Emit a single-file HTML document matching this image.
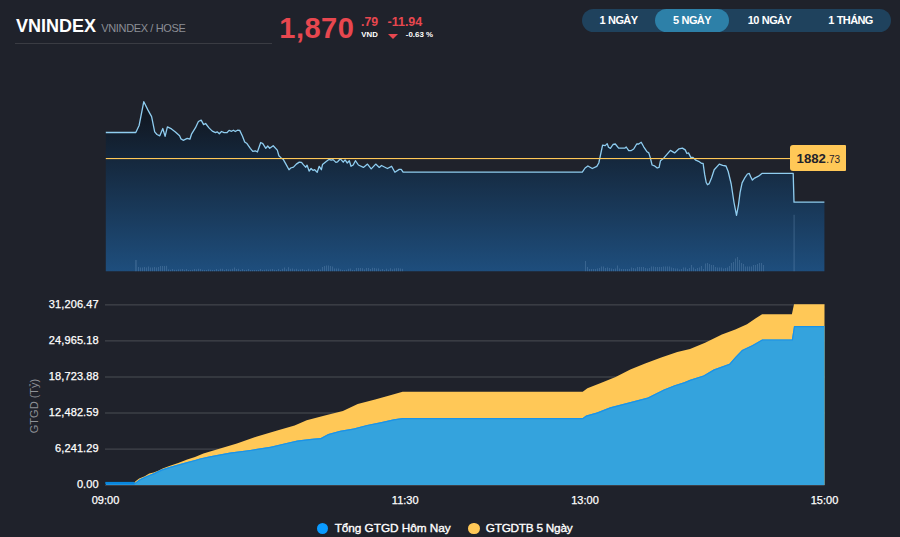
<!DOCTYPE html>
<html><head><meta charset="utf-8"><title>VNINDEX</title>
<style>
html,body{margin:0;padding:0;}
body{width:900px;height:537px;background:#1f222b;position:relative;overflow:hidden;font-family:"Liberation Sans",sans-serif;color:#fff;}
.abs{position:absolute;white-space:nowrap;line-height:1;}
#sym{left:16px;top:16.5px;font-size:18px;font-weight:bold;letter-spacing:0px;}
#sub{left:101.3px;top:22.8px;font-size:11px;letter-spacing:-0.36px;color:#8b8e95;}
#hr{left:15px;top:43px;width:257px;height:1px;background:#3a3c43;}
#price{left:279.3px;top:13.5px;font-size:29px;letter-spacing:0.5px;font-weight:bold;color:#e8474f;}
#dec{left:361px;top:16px;font-size:12.3px;font-weight:bold;color:#e8474f;}
#vnd{left:361.3px;top:31.2px;font-size:7.8px;font-weight:bold;color:#fff;}
#chg{left:387.5px;top:16px;font-size:12.5px;font-weight:bold;color:#e8474f;}
#tri{left:388px;top:34px;width:0;height:0;border-left:5px solid transparent;border-right:5px solid transparent;border-top:5px solid #e8474f;}
#pct{left:405.8px;top:31.2px;font-size:7.9px;font-weight:bold;color:#fff;}
#pill{left:582px;top:9px;width:309px;height:23px;border-radius:12px;background:#1f425d;}
.btn{position:absolute;top:9px;height:23px;line-height:23px;text-align:center;font-size:11px;letter-spacing:-0.62px;word-spacing:0.6px;font-weight:bold;color:#fff;border-radius:12px;white-space:nowrap;}
.btn.on{background:#2d80a8;}
.yl{position:absolute;right:801.3px;font-size:11px;letter-spacing:0.1px;line-height:13px;white-space:nowrap;color:#fff;-webkit-text-stroke:0.25px #fff;}
.xl{position:absolute;top:493.5px;width:60px;text-align:center;font-size:11px;line-height:13px;color:#fff;-webkit-text-stroke:0.25px #fff;}
#ytitle{left:33.6px;top:406px;font-size:11px;color:#8e9197;transform:translate(-50%,-50%) rotate(-90deg);}
#tip{left:790px;top:145px;width:56px;height:26px;background:#ffc857;border-radius:3px 1px 1px 3px;}
#tipa{left:796.6px;top:151.5px;font-size:13.2px;font-weight:bold;color:#1f222b;}
#tipb{left:826.2px;top:154.9px;font-size:10px;color:#1f222b;}
.dot{position:absolute;width:11px;height:11px;border-radius:50%;}
.lg{top:522.5px;font-size:11.8px;letter-spacing:-0.05px;-webkit-text-stroke:0.35px #fff;color:#fff;}
svg{position:absolute;left:0;top:0;}
</style></head><body>
<svg width="900" height="537" viewBox="0 0 900 537">
<defs>
<linearGradient id="g" x1="0" y1="100" x2="0" y2="271.3" gradientUnits="userSpaceOnUse">
<stop offset="0" stop-color="#10131a"/><stop offset="1" stop-color="#1e4e7d"/>
</linearGradient>
<clipPath id="cb"><path d="M106.0,483.4 L134.1,483.4 L140.2,479.1 L146.9,476.0 L153.6,473.3 L161.5,469.6 L169.3,467.0 L178.2,464.6 L187.2,462.1 L195.0,459.9 L200.0,458.4 L210.1,456.3 L230.2,452.6 L250.3,449.9 L270.5,446.7 L286.5,442.9 L297.3,440.6 L312.1,438.7 L320.8,438.1 L328.2,434.0 L340.2,430.7 L353.6,428.5 L367.0,424.9 L380.5,422.2 L393.9,419.3 L402.6,418.0 L582.7,418.0 L586.1,415.6 L596.8,412.6 L610.2,407.3 L620.9,404.6 L634.4,401.1 L647.8,397.5 L655.8,393.5 L663.9,389.4 L674.6,385.2 L684.0,382.3 L690.0,379.8 L703.5,375.4 L713.5,369.6 L729.4,363.7 L735.3,357.0 L742.0,350.0 L752.1,345.3 L762.1,339.4 L791.9,339.4 L794.0,326.0 L824.5,326.0 L824.5,484.9 L106,484.9 Z"/></clipPath>
</defs>
<path d="M105.8,132.5 L135.8,132.5 L139.1,125.5 L143.8,101.7 L148.0,110.1 L151.6,116.6 L154.7,131.9 L157.0,134.5 L159.8,135.8 L162.8,128.5 L165.1,136.4 L167.4,126.9 L171.5,128.9 L175.4,131.9 L179.6,135.8 L181.0,138.9 L183.2,140.3 L187.2,138.3 L189.9,139.2 L191.5,134.2 L195.5,127.7 L198.4,121.5 L201.2,120.1 L203.6,124.6 L205.6,123.5 L209.0,127.9 L212.3,131.1 L215.5,132.6 L217.2,131.8 L219.3,133.7 L221.5,131.5 L224.1,132.7 L226.9,132.7 L229.1,130.4 L231.6,131.3 L233.4,130.2 L235.3,131.5 L237.5,130.2 L239.7,130.4 L242.5,136.3 L244.7,141.9 L247.0,143.6 L250.3,148.3 L252.8,151.4 L255.4,150.8 L257.4,152.0 L260.7,142.5 L262.8,143.6 L265.8,148.3 L267.7,146.0 L269.7,148.3 L273.2,145.7 L277.3,150.1 L278.9,155.7 L281.2,157.9 L283.4,159.6 L286.2,164.6 L289.0,169.7 L290.7,168.0 L293.5,167.1 L296.3,164.1 L299.3,162.1 L301.5,162.4 L303.5,164.9 L305.8,167.2 L307.1,165.2 L309.1,171.1 L311.1,168.5 L313.0,170.4 L314.7,169.7 L317.2,172.2 L319.2,166.3 L321.4,169.7 L322.5,164.6 L325.9,161.8 L329.2,159.3 L331.2,160.2 L333.1,159.6 L335.9,162.4 L337.6,161.8 L340.4,158.8 L343.2,162.2 L345.1,159.9 L347.3,163.0 L349.3,160.7 L351.0,166.3 L353.2,165.0 L355.4,160.7 L358.4,165.0 L363.4,167.4 L367.5,164.1 L371.2,168.9 L375.7,164.1 L379.3,167.4 L381.5,165.5 L387.4,168.5 L391.6,166.3 L394.9,172.2 L399.2,169.4 L401.2,169.4 L403.1,172.2 L582.3,172.2 L585.1,168.0 L587.9,166.0 L592.3,168.5 L596.8,166.3 L598.8,163.0 L600.7,154.0 L602.6,145.1 L605.2,145.6 L607.2,143.6 L608.5,147.3 L610.4,148.4 L613.0,144.5 L615.3,144.0 L618.6,148.2 L624.7,148.2 L626.2,147.0 L628.7,150.7 L630.9,150.7 L633.7,149.0 L636.7,144.0 L638.7,144.0 L641.2,142.3 L643.7,146.8 L647.1,151.8 L648.8,152.9 L650.2,157.4 L652.1,165.0 L654.4,165.8 L657.2,168.0 L659.1,167.4 L660.5,160.7 L663.9,157.9 L670.4,150.4 L674.6,152.9 L679.0,148.8 L682.4,148.1 L685.2,149.9 L686.9,153.5 L688.5,152.9 L690.8,157.4 L693.0,157.4 L695.8,160.2 L698.6,161.3 L701.4,163.3 L703.1,163.3 L704.7,174.7 L706.2,182.5 L707.5,184.7 L709.2,183.6 L711.5,178.0 L714.2,169.7 L719.3,164.1 L722.6,165.4 L726.0,166.0 L728.2,171.5 L731.2,184.0 L734.0,202.5 L736.5,215.3 L738.4,205.3 L740.1,192.4 L742.1,182.9 L745.1,177.3 L747.4,174.0 L749.3,173.4 L750.7,176.8 L752.4,180.1 L754.6,178.1 L758.5,176.2 L761.9,173.4 L793.2,173.4 L794.0,202.2 L824.4,202.2 L824.4,271.3 L105.8,271.3 Z" fill="url(#g)"/>
<g fill="#8fb4d8" opacity="0.24">
<rect x="135.2" y="260.0" width="1.5" height="11.3"/>
<rect x="138.0" y="267.0" width="1.0" height="4.3"/>
<rect x="140.0" y="267.5" width="1.0" height="3.8"/>
<rect x="142.0" y="267.5" width="1.0" height="3.8"/>
<rect x="144.0" y="267.0" width="1.0" height="4.3"/>
<rect x="146.0" y="267.5" width="1.0" height="3.8"/>
<rect x="148.0" y="266.5" width="1.0" height="4.8"/>
<rect x="150.0" y="267.5" width="1.0" height="3.8"/>
<rect x="152.0" y="267.5" width="1.0" height="3.8"/>
<rect x="154.0" y="267.0" width="1.0" height="4.3"/>
<rect x="156.0" y="267.5" width="1.0" height="3.8"/>
<rect x="158.0" y="267.0" width="1.0" height="4.3"/>
<rect x="160.0" y="266.0" width="1.0" height="5.3"/>
<rect x="162.0" y="266.0" width="1.0" height="5.3"/>
<rect x="164.0" y="266.0" width="1.0" height="5.3"/>
<rect x="166.0" y="265.8" width="1.0" height="5.5"/>
<rect x="168.0" y="269.4" width="1.0" height="1.9"/>
<rect x="170.0" y="269.8" width="1.0" height="1.5"/>
<rect x="172.0" y="269.0" width="1.0" height="2.3"/>
<rect x="174.0" y="269.8" width="1.0" height="1.5"/>
<rect x="176.0" y="269.8" width="1.0" height="1.5"/>
<rect x="178.0" y="269.4" width="1.0" height="1.9"/>
<rect x="180.0" y="269.4" width="1.0" height="1.9"/>
<rect x="182.0" y="269.0" width="1.0" height="2.3"/>
<rect x="184.0" y="269.8" width="1.0" height="1.5"/>
<rect x="186.0" y="269.0" width="1.0" height="2.3"/>
<rect x="188.0" y="270.0" width="1.0" height="1.3"/>
<rect x="190.0" y="270.0" width="1.0" height="1.3"/>
<rect x="192.0" y="269.8" width="1.0" height="1.5"/>
<rect x="194.0" y="269.0" width="1.0" height="2.3"/>
<rect x="196.0" y="269.4" width="1.0" height="1.9"/>
<rect x="198.0" y="268.8" width="1.0" height="2.5"/>
<rect x="200.0" y="269.0" width="1.0" height="2.3"/>
<rect x="202.0" y="269.8" width="1.0" height="1.5"/>
<rect x="204.0" y="270.0" width="1.0" height="1.3"/>
<rect x="206.0" y="270.0" width="1.0" height="1.3"/>
<rect x="208.0" y="269.4" width="1.0" height="1.9"/>
<rect x="210.0" y="269.7" width="1.0" height="1.6"/>
<rect x="212.0" y="270.0" width="1.0" height="1.3"/>
<rect x="214.0" y="270.0" width="1.0" height="1.3"/>
<rect x="216.0" y="269.0" width="1.0" height="2.3"/>
<rect x="218.0" y="269.8" width="1.0" height="1.5"/>
<rect x="220.0" y="268.8" width="1.0" height="2.5"/>
<rect x="222.0" y="268.8" width="1.0" height="2.5"/>
<rect x="224.0" y="270.0" width="1.0" height="1.3"/>
<rect x="226.0" y="269.0" width="1.0" height="2.3"/>
<rect x="228.0" y="269.4" width="1.0" height="1.9"/>
<rect x="230.0" y="269.4" width="1.0" height="1.9"/>
<rect x="232.0" y="268.8" width="1.0" height="2.5"/>
<rect x="234.0" y="267.5" width="1.0" height="3.8"/>
<rect x="236.0" y="269.0" width="1.0" height="2.3"/>
<rect x="238.0" y="268.8" width="1.0" height="2.5"/>
<rect x="240.0" y="270.0" width="1.0" height="1.3"/>
<rect x="242.0" y="269.0" width="1.0" height="2.3"/>
<rect x="244.0" y="270.0" width="1.0" height="1.3"/>
<rect x="246.0" y="269.8" width="1.0" height="1.5"/>
<rect x="248.0" y="269.0" width="1.0" height="2.3"/>
<rect x="250.0" y="270.0" width="1.0" height="1.3"/>
<rect x="252.0" y="270.0" width="1.0" height="1.3"/>
<rect x="254.0" y="270.0" width="1.0" height="1.3"/>
<rect x="256.0" y="270.0" width="1.0" height="1.3"/>
<rect x="258.0" y="270.0" width="1.0" height="1.3"/>
<rect x="260.0" y="269.0" width="1.0" height="2.3"/>
<rect x="262.0" y="270.0" width="1.0" height="1.3"/>
<rect x="264.0" y="269.8" width="1.0" height="1.5"/>
<rect x="266.0" y="269.4" width="1.0" height="1.9"/>
<rect x="268.0" y="269.7" width="1.0" height="1.6"/>
<rect x="270.0" y="269.4" width="1.0" height="1.9"/>
<rect x="272.0" y="269.0" width="1.0" height="2.3"/>
<rect x="274.0" y="269.8" width="1.0" height="1.5"/>
<rect x="276.0" y="270.0" width="1.0" height="1.3"/>
<rect x="278.0" y="269.0" width="1.0" height="2.3"/>
<rect x="280.0" y="270.0" width="1.0" height="1.3"/>
<rect x="282.0" y="268.8" width="1.0" height="2.5"/>
<rect x="284.0" y="267.5" width="1.0" height="3.8"/>
<rect x="286.0" y="269.4" width="1.0" height="1.9"/>
<rect x="288.0" y="267.2" width="1.0" height="4.1"/>
<rect x="290.0" y="268.8" width="1.0" height="2.5"/>
<rect x="292.0" y="268.5" width="1.0" height="2.8"/>
<rect x="294.0" y="269.4" width="1.0" height="1.9"/>
<rect x="296.0" y="268.8" width="1.0" height="2.5"/>
<rect x="298.0" y="269.7" width="1.0" height="1.6"/>
<rect x="300.0" y="269.4" width="1.0" height="1.9"/>
<rect x="302.0" y="269.0" width="1.0" height="2.3"/>
<rect x="304.0" y="269.8" width="1.0" height="1.5"/>
<rect x="306.0" y="270.0" width="1.0" height="1.3"/>
<rect x="308.0" y="268.8" width="1.0" height="2.5"/>
<rect x="310.0" y="269.7" width="1.0" height="1.6"/>
<rect x="312.0" y="269.7" width="1.0" height="1.6"/>
<rect x="314.0" y="269.8" width="1.0" height="1.5"/>
<rect x="316.0" y="270.0" width="1.0" height="1.3"/>
<rect x="318.0" y="269.0" width="1.0" height="2.3"/>
<rect x="320.0" y="269.7" width="1.0" height="1.6"/>
<rect x="322.0" y="267.0" width="1.0" height="4.3"/>
<rect x="324.0" y="266.0" width="1.0" height="5.3"/>
<rect x="326.0" y="265.5" width="1.0" height="5.8"/>
<rect x="328.0" y="265.5" width="1.0" height="5.8"/>
<rect x="330.0" y="266.0" width="1.0" height="5.3"/>
<rect x="332.0" y="266.5" width="1.0" height="4.8"/>
<rect x="334.0" y="268.5" width="1.0" height="2.8"/>
<rect x="336.0" y="268.5" width="1.0" height="2.8"/>
<rect x="338.0" y="268.5" width="1.0" height="2.8"/>
<rect x="340.0" y="269.4" width="1.0" height="1.9"/>
<rect x="342.0" y="270.0" width="1.0" height="1.3"/>
<rect x="344.0" y="270.0" width="1.0" height="1.3"/>
<rect x="346.0" y="269.8" width="1.0" height="1.5"/>
<rect x="348.0" y="268.8" width="1.0" height="2.5"/>
<rect x="350.0" y="268.5" width="1.0" height="2.8"/>
<rect x="352.0" y="270.0" width="1.0" height="1.3"/>
<rect x="354.0" y="270.0" width="1.0" height="1.3"/>
<rect x="356.0" y="268.0" width="1.0" height="3.3"/>
<rect x="358.0" y="268.0" width="1.0" height="3.3"/>
<rect x="360.0" y="268.0" width="1.0" height="3.3"/>
<rect x="362.0" y="268.2" width="1.0" height="3.1"/>
<rect x="364.0" y="269.4" width="1.0" height="1.9"/>
<rect x="366.0" y="268.0" width="1.0" height="3.3"/>
<rect x="368.0" y="268.0" width="1.0" height="3.3"/>
<rect x="370.0" y="269.0" width="1.0" height="2.3"/>
<rect x="372.0" y="267.8" width="1.0" height="3.5"/>
<rect x="374.0" y="268.0" width="1.0" height="3.3"/>
<rect x="376.0" y="268.5" width="1.0" height="2.8"/>
<rect x="378.0" y="268.4" width="1.0" height="2.9"/>
<rect x="380.0" y="269.7" width="1.0" height="1.6"/>
<rect x="382.0" y="269.0" width="1.0" height="2.3"/>
<rect x="384.0" y="270.0" width="1.0" height="1.3"/>
<rect x="386.0" y="268.7" width="1.0" height="2.6"/>
<rect x="388.0" y="269.7" width="1.0" height="1.6"/>
<rect x="390.0" y="268.2" width="1.0" height="3.1"/>
<rect x="392.0" y="269.4" width="1.0" height="1.9"/>
<rect x="394.0" y="268.5" width="1.0" height="2.8"/>
<rect x="396.0" y="268.2" width="1.0" height="3.1"/>
<rect x="398.0" y="268.2" width="1.0" height="3.1"/>
<rect x="400.0" y="268.5" width="1.0" height="2.8"/>
<rect x="402.0" y="268.8" width="1.0" height="2.5"/>
<rect x="585.0" y="261.0" width="1.0" height="10.3"/>
<rect x="587.0" y="267.0" width="1.0" height="4.3"/>
<rect x="589.0" y="269.0" width="1.0" height="2.3"/>
<rect x="591.0" y="269.0" width="1.0" height="2.3"/>
<rect x="593.0" y="269.0" width="1.0" height="2.3"/>
<rect x="595.0" y="269.0" width="1.0" height="2.3"/>
<rect x="597.0" y="268.5" width="1.0" height="2.8"/>
<rect x="599.0" y="268.0" width="1.0" height="3.3"/>
<rect x="601.0" y="266.5" width="1.0" height="4.8"/>
<rect x="603.0" y="266.5" width="1.0" height="4.8"/>
<rect x="605.0" y="268.0" width="1.0" height="3.3"/>
<rect x="607.0" y="267.5" width="1.0" height="3.8"/>
<rect x="609.0" y="268.0" width="1.0" height="3.3"/>
<rect x="611.0" y="268.5" width="1.0" height="2.8"/>
<rect x="613.0" y="269.0" width="1.0" height="2.3"/>
<rect x="615.0" y="268.5" width="1.0" height="2.8"/>
<rect x="617.0" y="265.5" width="1.0" height="5.8"/>
<rect x="619.0" y="268.5" width="1.0" height="2.8"/>
<rect x="621.0" y="269.0" width="1.0" height="2.3"/>
<rect x="623.0" y="269.0" width="1.0" height="2.3"/>
<rect x="625.0" y="269.0" width="1.0" height="2.3"/>
<rect x="627.0" y="269.0" width="1.0" height="2.3"/>
<rect x="629.0" y="269.0" width="1.0" height="2.3"/>
<rect x="631.0" y="267.5" width="1.0" height="3.8"/>
<rect x="633.0" y="268.0" width="1.0" height="3.3"/>
<rect x="635.0" y="268.5" width="1.0" height="2.8"/>
<rect x="637.0" y="267.0" width="1.0" height="4.3"/>
<rect x="639.0" y="267.0" width="1.0" height="4.3"/>
<rect x="641.0" y="267.0" width="1.0" height="4.3"/>
<rect x="643.0" y="267.0" width="1.0" height="4.3"/>
<rect x="645.0" y="268.0" width="1.0" height="3.3"/>
<rect x="647.0" y="268.5" width="1.0" height="2.8"/>
<rect x="649.0" y="268.0" width="1.0" height="3.3"/>
<rect x="651.0" y="266.5" width="1.0" height="4.8"/>
<rect x="653.0" y="266.5" width="1.0" height="4.8"/>
<rect x="655.0" y="267.0" width="1.0" height="4.3"/>
<rect x="657.0" y="267.0" width="1.0" height="4.3"/>
<rect x="659.0" y="267.0" width="1.0" height="4.3"/>
<rect x="661.0" y="267.0" width="1.0" height="4.3"/>
<rect x="663.0" y="266.5" width="1.0" height="4.8"/>
<rect x="665.0" y="266.5" width="1.0" height="4.8"/>
<rect x="667.0" y="266.5" width="1.0" height="4.8"/>
<rect x="669.0" y="266.5" width="1.0" height="4.8"/>
<rect x="671.0" y="267.5" width="1.0" height="3.8"/>
<rect x="673.0" y="268.0" width="1.0" height="3.3"/>
<rect x="675.0" y="268.5" width="1.0" height="2.8"/>
<rect x="677.0" y="268.5" width="1.0" height="2.8"/>
<rect x="679.0" y="269.5" width="1.0" height="1.8"/>
<rect x="681.0" y="269.0" width="1.0" height="2.3"/>
<rect x="683.0" y="267.5" width="1.0" height="3.8"/>
<rect x="685.0" y="267.5" width="1.0" height="3.8"/>
<rect x="687.0" y="269.0" width="1.0" height="2.3"/>
<rect x="689.0" y="268.0" width="1.0" height="3.3"/>
<rect x="691.0" y="265.0" width="1.0" height="6.3"/>
<rect x="693.0" y="267.5" width="1.0" height="3.8"/>
<rect x="695.0" y="269.0" width="1.0" height="2.3"/>
<rect x="697.0" y="268.0" width="1.0" height="3.3"/>
<rect x="699.0" y="267.5" width="1.0" height="3.8"/>
<rect x="701.0" y="266.0" width="1.0" height="5.3"/>
<rect x="703.0" y="269.0" width="1.0" height="2.3"/>
<rect x="705.0" y="263.5" width="1.0" height="7.8"/>
<rect x="707.0" y="263.0" width="1.0" height="8.3"/>
<rect x="709.0" y="264.0" width="1.0" height="7.3"/>
<rect x="711.0" y="265.0" width="1.0" height="6.3"/>
<rect x="713.0" y="265.0" width="1.0" height="6.3"/>
<rect x="715.0" y="267.0" width="1.0" height="4.3"/>
<rect x="717.0" y="267.5" width="1.0" height="3.8"/>
<rect x="719.0" y="267.5" width="1.0" height="3.8"/>
<rect x="721.0" y="267.5" width="1.0" height="3.8"/>
<rect x="723.0" y="268.5" width="1.0" height="2.8"/>
<rect x="725.0" y="268.0" width="1.0" height="3.3"/>
<rect x="727.0" y="267.5" width="1.0" height="3.8"/>
<rect x="729.0" y="266.0" width="1.0" height="5.3"/>
<rect x="731.0" y="263.0" width="1.0" height="8.3"/>
<rect x="733.0" y="262.0" width="1.0" height="9.3"/>
<rect x="735.0" y="258.5" width="1.0" height="12.8"/>
<rect x="737.0" y="257.0" width="1.0" height="14.3"/>
<rect x="739.0" y="260.0" width="1.0" height="11.3"/>
<rect x="741.0" y="263.0" width="1.0" height="8.3"/>
<rect x="743.0" y="264.0" width="1.0" height="7.3"/>
<rect x="745.0" y="266.5" width="1.0" height="4.8"/>
<rect x="747.0" y="266.5" width="1.0" height="4.8"/>
<rect x="749.0" y="266.5" width="1.0" height="4.8"/>
<rect x="751.0" y="266.5" width="1.0" height="4.8"/>
<rect x="753.0" y="265.0" width="1.0" height="6.3"/>
<rect x="755.0" y="265.0" width="1.0" height="6.3"/>
<rect x="757.0" y="264.0" width="1.0" height="7.3"/>
<rect x="759.0" y="263.0" width="1.0" height="8.3"/>
<rect x="761.0" y="263.0" width="1.0" height="8.3"/>
<rect x="763.0" y="265.0" width="1.0" height="6.3"/>
<rect x="793.5" y="214.8" width="1.2" height="56.5"/>
</g>
<path d="M105.8,132.5 L135.8,132.5 L139.1,125.5 L143.8,101.7 L148.0,110.1 L151.6,116.6 L154.7,131.9 L157.0,134.5 L159.8,135.8 L162.8,128.5 L165.1,136.4 L167.4,126.9 L171.5,128.9 L175.4,131.9 L179.6,135.8 L181.0,138.9 L183.2,140.3 L187.2,138.3 L189.9,139.2 L191.5,134.2 L195.5,127.7 L198.4,121.5 L201.2,120.1 L203.6,124.6 L205.6,123.5 L209.0,127.9 L212.3,131.1 L215.5,132.6 L217.2,131.8 L219.3,133.7 L221.5,131.5 L224.1,132.7 L226.9,132.7 L229.1,130.4 L231.6,131.3 L233.4,130.2 L235.3,131.5 L237.5,130.2 L239.7,130.4 L242.5,136.3 L244.7,141.9 L247.0,143.6 L250.3,148.3 L252.8,151.4 L255.4,150.8 L257.4,152.0 L260.7,142.5 L262.8,143.6 L265.8,148.3 L267.7,146.0 L269.7,148.3 L273.2,145.7 L277.3,150.1 L278.9,155.7 L281.2,157.9 L283.4,159.6 L286.2,164.6 L289.0,169.7 L290.7,168.0 L293.5,167.1 L296.3,164.1 L299.3,162.1 L301.5,162.4 L303.5,164.9 L305.8,167.2 L307.1,165.2 L309.1,171.1 L311.1,168.5 L313.0,170.4 L314.7,169.7 L317.2,172.2 L319.2,166.3 L321.4,169.7 L322.5,164.6 L325.9,161.8 L329.2,159.3 L331.2,160.2 L333.1,159.6 L335.9,162.4 L337.6,161.8 L340.4,158.8 L343.2,162.2 L345.1,159.9 L347.3,163.0 L349.3,160.7 L351.0,166.3 L353.2,165.0 L355.4,160.7 L358.4,165.0 L363.4,167.4 L367.5,164.1 L371.2,168.9 L375.7,164.1 L379.3,167.4 L381.5,165.5 L387.4,168.5 L391.6,166.3 L394.9,172.2 L399.2,169.4 L401.2,169.4 L403.1,172.2 L582.3,172.2 L585.1,168.0 L587.9,166.0 L592.3,168.5 L596.8,166.3 L598.8,163.0 L600.7,154.0 L602.6,145.1 L605.2,145.6 L607.2,143.6 L608.5,147.3 L610.4,148.4 L613.0,144.5 L615.3,144.0 L618.6,148.2 L624.7,148.2 L626.2,147.0 L628.7,150.7 L630.9,150.7 L633.7,149.0 L636.7,144.0 L638.7,144.0 L641.2,142.3 L643.7,146.8 L647.1,151.8 L648.8,152.9 L650.2,157.4 L652.1,165.0 L654.4,165.8 L657.2,168.0 L659.1,167.4 L660.5,160.7 L663.9,157.9 L670.4,150.4 L674.6,152.9 L679.0,148.8 L682.4,148.1 L685.2,149.9 L686.9,153.5 L688.5,152.9 L690.8,157.4 L693.0,157.4 L695.8,160.2 L698.6,161.3 L701.4,163.3 L703.1,163.3 L704.7,174.7 L706.2,182.5 L707.5,184.7 L709.2,183.6 L711.5,178.0 L714.2,169.7 L719.3,164.1 L722.6,165.4 L726.0,166.0 L728.2,171.5 L731.2,184.0 L734.0,202.5 L736.5,215.3 L738.4,205.3 L740.1,192.4 L742.1,182.9 L745.1,177.3 L747.4,174.0 L749.3,173.4 L750.7,176.8 L752.4,180.1 L754.6,178.1 L758.5,176.2 L761.9,173.4 L793.2,173.4 L794.0,202.2 L824.4,202.2" fill="none" stroke="#8fcdf0" stroke-width="1.3" stroke-linejoin="round"/>
<rect x="105.8" y="158" width="686" height="1.1" fill="#ffc857"/>
<g stroke="#4b4e55" stroke-width="1">
<line x1="105" x2="824.5" y1="304.9" y2="304.9"/>
<line x1="105" x2="824.5" y1="340.9" y2="340.9"/>
<line x1="105" x2="824.5" y1="377.0" y2="377.0"/>
<line x1="105" x2="824.5" y1="413.0" y2="413.0"/>
<line x1="105" x2="824.5" y1="449.1" y2="449.1"/>
<line x1="105" x2="824.5" y1="485.2" y2="485.2"/>
</g>
<path d="M106.0,484.8 L134.1,483.0 L135.2,481.6 L139.1,478.5 L144.7,476.3 L149.2,473.5 L153.6,472.4 L158.1,470.7 L162.6,468.5 L169.3,465.9 L178.2,462.9 L187.2,459.6 L195.0,457.0 L203.4,453.6 L223.5,447.6 L236.9,443.6 L257.0,436.5 L277.2,430.6 L294.6,425.5 L306.7,420.2 L326.8,414.9 L342.9,411.1 L357.7,404.1 L375.1,399.4 L391.2,395.0 L402.6,391.8 L582.7,391.8 L587.4,388.3 L600.8,383.0 L615.6,376.9 L630.3,369.6 L645.1,363.5 L661.2,357.5 L677.3,352.1 L690.0,349.0 L705.1,342.8 L721.9,334.4 L735.3,329.4 L747.0,324.3 L755.4,318.5 L762.1,314.3 L791.9,314.3 L794.0,304.2 L824.5,304.2 L824.5,484.9 L106,484.9 Z" fill="#ffc857"/>
<path d="M106.0,483.4 L134.1,483.4 L140.2,479.1 L146.9,476.0 L153.6,473.3 L161.5,469.6 L169.3,467.0 L178.2,464.6 L187.2,462.1 L195.0,459.9 L200.0,458.4 L210.1,456.3 L230.2,452.6 L250.3,449.9 L270.5,446.7 L286.5,442.9 L297.3,440.6 L312.1,438.7 L320.8,438.1 L328.2,434.0 L340.2,430.7 L353.6,428.5 L367.0,424.9 L380.5,422.2 L393.9,419.3 L402.6,418.0 L582.7,418.0 L586.1,415.6 L596.8,412.6 L610.2,407.3 L620.9,404.6 L634.4,401.1 L647.8,397.5 L655.8,393.5 L663.9,389.4 L674.6,385.2 L684.0,382.3 L690.0,379.8 L703.5,375.4 L713.5,369.6 L729.4,363.7 L735.3,357.0 L742.0,350.0 L752.1,345.3 L762.1,339.4 L791.9,339.4 L794.0,326.0 L824.5,326.0 L824.5,484.9 L106,484.9 Z" fill="#34a3dd"/>
<path d="M106.0,483.4 L134.1,483.4 L140.2,479.1 L146.9,476.0 L153.6,473.3 L161.5,469.6 L169.3,467.0 L178.2,464.6 L187.2,462.1 L195.0,459.9 L200.0,458.4 L210.1,456.3 L230.2,452.6 L250.3,449.9 L270.5,446.7 L286.5,442.9 L297.3,440.6 L312.1,438.7 L320.8,438.1 L328.2,434.0 L340.2,430.7 L353.6,428.5 L367.0,424.9 L380.5,422.2 L393.9,419.3 L402.6,418.0 L582.7,418.0 L586.1,415.6 L596.8,412.6 L610.2,407.3 L620.9,404.6 L634.4,401.1 L647.8,397.5 L655.8,393.5 L663.9,389.4 L674.6,385.2 L684.0,382.3 L690.0,379.8 L703.5,375.4 L713.5,369.6 L729.4,363.7 L735.3,357.0 L742.0,350.0 L752.1,345.3 L762.1,339.4 L791.9,339.4 L794.0,326.0 L824.5,326.0" fill="none" stroke="#1a92e8" stroke-width="2.4" clip-path="url(#cb)"/>
<rect x="105.3" y="481.9" width="29.2" height="2.4" fill="#0886dd"/>
</svg>
<div class="abs" id="sym">VNINDEX</div>
<div class="abs" id="sub">VNINDEX / HOSE</div>
<div class="abs" id="hr"></div>
<div class="abs" id="price">1,870</div>
<div class="abs" id="dec">.79</div>
<div class="abs" id="vnd">VND</div>
<div class="abs" id="chg">-11.94</div>
<div class="abs" id="tri"></div>
<div class="abs" id="pct">-0.63 %</div>
<div class="abs" id="pill"></div>
<div class="btn" style="left:582px;width:73px">1 NGÀY</div>
<div class="btn on" style="left:655px;width:74px">5 NGÀY</div>
<div class="btn" style="left:729px;width:81px">10 NGÀY</div>
<div class="btn" style="left:810px;width:81px">1 THÁNG</div>
<div class="abs" id="tip"></div>
<div class="abs" id="tipa">1882</div>
<div class="abs" id="tipb">.73</div>
<div class="yl" style="top:298.0px">31,206.47</div>
<div class="yl" style="top:334.0px">24,965.18</div>
<div class="yl" style="top:370.1px">18,723.88</div>
<div class="yl" style="top:406.1px">12,482.59</div>
<div class="yl" style="top:442.2px">6,241.29</div>
<div class="yl" style="top:478.3px">0.00</div>
<div class="xl" style="left:75.5px">09:00</div>
<div class="xl" style="left:375.2px">11:30</div>
<div class="xl" style="left:555.0px">13:00</div>
<div class="xl" style="left:794.5px">15:00</div>
<div class="abs" id="ytitle">GTGD (Tỷ)</div>
<div class="dot" style="left:317px;top:522.8px;background:#0a9bff"></div>
<div class="abs lg" id="lg1" style="left:334.7px">Tổng GTGD Hôm Nay</div>
<div class="dot" style="left:468.2px;top:522.6px;width:11.6px;height:11.6px;background:#ffc857"></div>
<div class="abs lg" id="lg2" style="left:485.8px;letter-spacing:-0.25px">GTGDTB 5 Ngày</div>
</body></html>
